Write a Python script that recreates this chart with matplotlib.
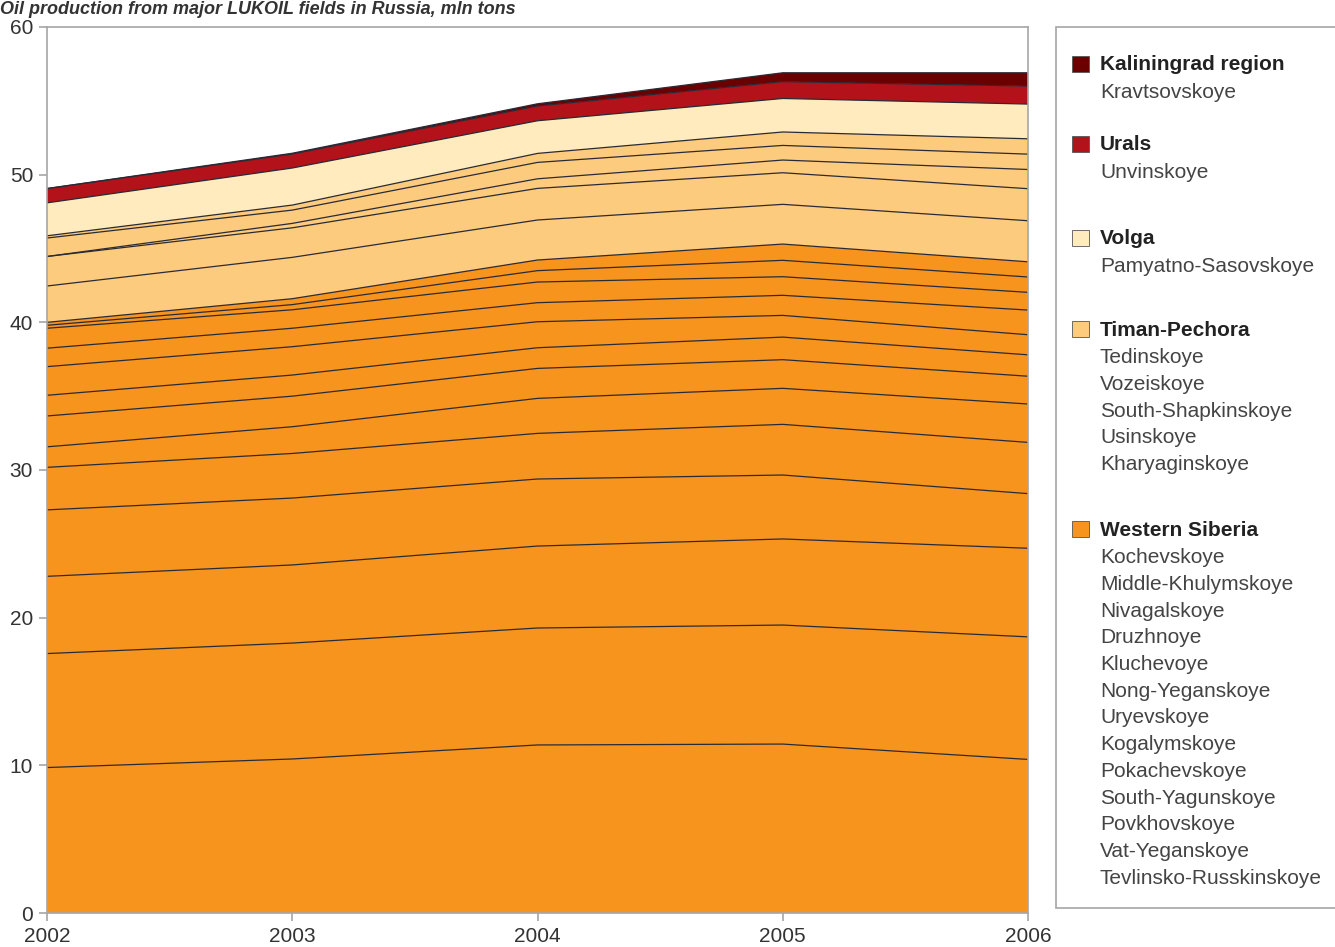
import matplotlib
matplotlib.use("Agg")
import matplotlib.pyplot as plt
from matplotlib.patches import Rectangle
import numpy as np

plt.rcParams['font.family'] = ['Liberation Sans', 'DejaVu Sans']

years = [2002, 2003, 2004, 2005, 2006]

# Western Siberia fields (bottom of stack first)
ws_fields = ["Tevlinsko-Russkinskoye", "Vat-Yeganskoye", "Povkhovskoye", "South-Yagunskoye",
             "Pokachevskoye", "Kogalymskoye", "Uryevskoye", "Nong-Yeganskoye", "Kluchevoye",
             "Druzhnoye", "Nivagalskoye", "Middle-Khulymskoye", "Kochevskoye"]
tevlinsko = [9.85, 10.43, 11.38, 11.44, 10.40]
vat_yegan = [7.72, 7.85, 7.92, 8.06, 8.30]
povkhov = [5.23, 5.29, 5.55, 5.83, 6.00]
south_yagun = [4.50, 4.53, 4.54, 4.33, 3.70]
pokachev = [2.88, 3.02, 3.09, 3.43, 3.47]
kogalym = [1.39, 1.81, 2.37, 2.44, 2.60]
uryev = [2.09, 2.07, 2.03, 1.94, 1.88]
nong_yegan = [1.40, 1.43, 1.40, 1.53, 1.45]
kluchev = [1.94, 1.92, 1.76, 1.47, 1.36]
druzhn = [1.25, 1.25, 1.29, 1.36, 1.67]
nivagal = [1.35, 1.25, 1.40, 1.26, 1.20]
middle_khulym = [0.20, 0.35, 0.77, 1.11, 1.04]
kochev = [0.20, 0.40, 0.72, 1.10, 1.03]

# Timan-Pechora fields (bottom first)
tp_fields = ["Kharyaginskoye", "Usinskoye", "South-Shapkinskoye", "Vozeiskoye", "Tedinskoye"]
kharyagin = [2.46, 2.80, 2.71, 2.69, 2.78]
usin = [2.00, 2.00, 2.14, 2.14, 2.17]
south_shapkin = [0.00, 0.30, 0.65, 0.86, 1.30]
vozei = [1.25, 0.90, 1.11, 0.99, 1.04]
tedin = [0.15, 0.34, 0.61, 0.91, 1.04]

# Volga, Urals, Kaliningrad
pamyatno = [2.23, 2.51, 2.21, 2.27, 2.35]
unvin = [0.97, 0.95, 1.00, 1.14, 1.22]
kravtsov = [0.00, 0.05, 0.15, 0.60, 0.90]

ws_series = [tevlinsko, vat_yegan, povkhov, south_yagun, pokachev, kogalym, uryev,
             nong_yegan, kluchev, druzhn, nivagal, middle_khulym, kochev]
tp_series = [kharyagin, usin, south_shapkin, vozei, tedin]

c_ws = "#F7941E"
c_tp = "#FDCB7D"
c_volga = "#FFEBBE"
c_urals = "#B3121B"
c_kal = "#6B0000"

series = ws_series + tp_series + [pamyatno, unvin, kravtsov]
colors = [c_ws] * len(ws_series) + [c_tp] * len(tp_series) + [c_volga, c_urals, c_kal]

W, H = 1335, 947
fig = plt.figure(figsize=(W / 100, H / 100), dpi=100)
ax = fig.add_axes([47 / W, 1 - 913 / H, (1028 - 47) / W, (913 - 27) / H])

x = np.array(years)
base = np.zeros(len(years))
for s, c in zip(series, colors):
    top = base + np.array(s)
    ax.fill_between(x, base, top, facecolor=c, edgecolor='none', linewidth=0)
    ax.plot(x, top, color="#2a2a35", linewidth=0.9)
    base = top

ax.set_xlim(2002, 2006)
ax.set_ylim(0, 60)
ax.set_xticks(years)
ax.set_xticklabels([str(y) for y in years])
ax.set_yticks([0, 10, 20, 30, 40, 50, 60])
for sp in ax.spines.values():
    sp.set_color("#A6A6A6")
    sp.set_linewidth(1.2)
ax.tick_params(axis='both', colors="#A6A6A6", labelcolor="#333333", labelsize=15,
               length=6, width=1.2, direction='out')
ax.tick_params(axis='y', pad=4)
ax.tick_params(axis='x', pad=4)

# Title
fig.text(0.0, 1 - 1 / H, "Oil production from major LUKOIL fields in Russia, mln tons",
         fontsize=13, fontweight='bold', fontstyle='italic', color="#333333",
         ha='left', va='top')

# Legend panel
fig.patches.append(Rectangle((1056 / W, 1 - 908 / H), (1345 - 1056) / W, (908 - 27) / H,
                             transform=fig.transFigure, facecolor='white',
                             edgecolor="#A6A6A6", linewidth=1.2))

legend_groups = [
    ("Kaliningrad region", c_kal, ["Kravtsovskoye"], 65),
    ("Urals", c_urals, ["Unvinskoye"], 145),
    ("Volga", c_volga, ["Pamyatno-Sasovskoye"], 239),
    ("Timan-Pechora", c_tp, tp_fields[::-1], 330),
    ("Western Siberia", c_ws, ws_fields[::-1], 530),
]
step = 26.7
for name, col, fields, yc in legend_groups:
    fig.patches.append(Rectangle((1072 / W, 1 - (yc + 7) / H), 17 / W, 16 / H,
                                 transform=fig.transFigure, facecolor=col,
                                 edgecolor="#555555", linewidth=0.6))
    fig.text(1100 / W, 1 - yc / H, name, fontsize=15, fontweight='bold',
             color="#222222", ha='left', va='center')
    for i, f in enumerate(fields):
        fig.text(1100 / W, 1 - (yc + (i + 1) * step + 1) / H, f, fontsize=15,
                 color="#444444", ha='left', va='center')

fig.savefig("out.png", dpi=100)
